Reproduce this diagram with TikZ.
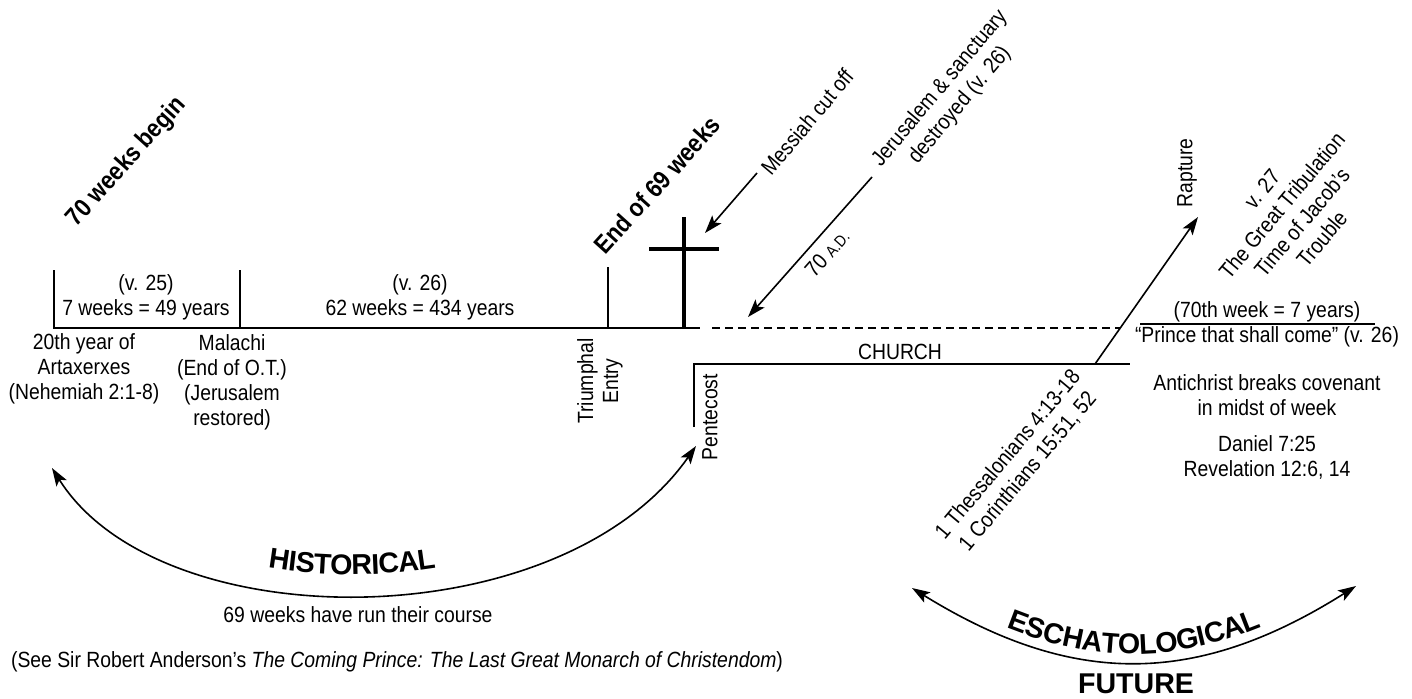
\documentclass[tikz,border=0pt]{standalone}
\usepackage{fontspec}
\setmainfont[FakeStretch=0.88]{Liberation Sans}
\newfontfamily\widesans{Liberation Sans}
\usetikzlibrary{arrows.meta,decorations.text}
\newcommand\arcfont{\widesans\bfseries\fontsize{14.3}{16}\selectfont}
\tikzset{
  txt/.style={align=center,inner sep=0pt},
  tilt/.style={txt,rotate=50,font=\fontsize{11}{13}\selectfont},
  upright/.style={txt,rotate=90},
  headline/.style={txt,rotate=48,font=\bfseries\fontsize{12.7}{15}\selectfont},
  tip/.style={-{Stealth[length=9pt,width=6pt,inset=2pt]},line width=0.8pt},
  bothtips/.style={{Stealth[length=9pt,width=6pt,inset=2pt]}-{Stealth[length=9pt,width=6pt,inset=2pt]},line width=0.8pt}
}
\begin{document}
\begin{tikzpicture}[x=0.5pt,y=-0.5pt,font=\fontsize{11}{12.5}\selectfont]
  \useasboundingbox (0,0) rectangle (1412,698);
  \draw
    (127,162) node[headline] (begin){70 weeks begin}
    (657,185) node[headline] (end69){End of 69 weeks}
    (807,122) node[tilt] (messiah){Messiah cut off}
    (950,97) node[tilt] (jerusalem){Jerusalem \& sanctuary\\destroyed (v. 26)}
    (827,253) node[txt,rotate=48.5] (ad){70 {\fontsize{8}{9}\selectfont A.D.}}
    (146,297) node[txt] (v25){(v. 25)\\7 weeks = 49 years}
    (420,297) node[txt] (v26){(v. 26)\\62 weeks = 434 years}
    (84,369) node[txt] (artax){20th year of\\Artaxerxes\\(Nehemiah 2:1-8)}
    (232,382) node[txt] (malachi){Malachi\\(End of O.T.)\\(Jerusalem\\restored)}
    (600,381) node[upright] (entry){Triumphal\\Entry}
    (710,417) node[upright] (pentecost){Pentecost}
    (900,352) node[txt] (church){CHURCH}
    (1187,173) node[upright] (rapture){Rapture}
    (1292,214) node[tilt] (trib){v. 27\\The Great Tribulation\\Time of Jacob’s\\Trouble}
    (1267,312) node[txt] (week70){(70th week = 7 years)}
    (1267,337) node[txt] (prince){“Prince that shall come” (v. 26)}
    (1267,395) node[txt] (antichrist){Antichrist breaks covenant\\in midst of week}
    (1267,457) node[txt] (daniel){Daniel 7:25\\Revelation 12:6, 14}
    (1018,463) node[tilt] (thess){1 Thessalonians 4:13-18\\1 Corinthians 15:51, 52}
    (358,615) node[txt] (course){69 weeks have run their course}
    (397,662) node[txt] (anderson){(See Sir Robert Anderson’s \textit{The Coming Prince: The Last Great Monarch of Christendom})}
    (1136,684) node[txt,font=\arcfont] (future){FUTURE};
  % timeline
  \coordinate (start) at (54,328);
  \coordinate (cut) at (700,328);
  \coordinate (gap) at (712,328);
  \coordinate (cross) at (1120,328);
  \coordinate (pent) at (694,364);
  \coordinate (pend) at (1130,364);
  \begin{scope}[line width=1pt]
    \draw (54,270) -- (start) -- (cut);
    \draw (240,270) -- (240,328);
    \draw (608,267) -- (608,328);
    \draw[dash pattern=on 4pt off 2.5pt] (gap) -- (cross);
    \draw (694,427) -- (pent) -- (pend);
    \draw (1140,324) -- (1375,324);
  \end{scope}
  \draw[line width=2pt] (684,217) -- (684,328) (649,249) -- (719,249);
  % arrows
  \coordinate (m0) at (757,173);
  \coordinate (m1) at (705,233);
  \coordinate (j0) at (872,177);
  \coordinate (j1) at (748,317);
  \coordinate (r0) at (1095,364);
  \coordinate (r1) at (1198,217);
  \draw[tip] (m0) -- (m1);
  \draw[tip] (j0) -- (j1);
  \draw[tip] (r0) -- (r1);
  % arcs
  \coordinate (h0) at (52,468);
  \coordinate (h1) at (696,446);
  \coordinate (e0) at (912,588);
  \coordinate (e1) at (1356,586);
  \draw[bothtips] (h0) .. controls (160,640) and (560,640) .. (h1);
  \path[decorate,decoration={text along path,text={|\arcfont|HISTORICAL},
    text align={center,right indent=25pt},raise=10pt}]
    (h0) .. controls (160,640) and (560,640) .. (h1);
  \draw[bothtips] (e0) .. controls (1072,687) and (1196,687) .. (e1);
  \path[decorate,decoration={text along path,text={|\arcfont|ESCHATOLOGICAL},
    text align=center,raise=4pt}]
    (e0) .. controls (1072,687) and (1196,687) .. (e1);
\end{tikzpicture}
\end{document}
